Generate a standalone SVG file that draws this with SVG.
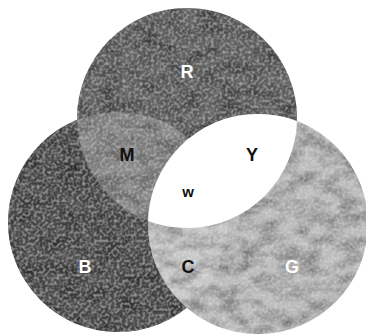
<svg xmlns="http://www.w3.org/2000/svg" width="366" height="335" viewBox="0 0 366 335">
  <style>
    .lbl { font-family: "Liberation Sans", Arial, sans-serif; font-weight: bold; text-anchor: middle; }
    .light { fill: #ffffff; }
    .dark { fill: #111111; }
  </style>
  <defs>
    <circle id="cR" cx="187" cy="118" r="110"/>
    <circle id="cB" cx="118" cy="222" r="110"/>
    <circle id="cG" cx="258" cy="224" r="110"/>
    <clipPath id="clipR"><use href="#cR"/></clipPath>
    <clipPath id="clipB"><use href="#cB"/></clipPath>
    <filter id="tex" x="0" y="0" width="366" height="335" filterUnits="userSpaceOnUse">
      <feTurbulence type="fractalNoise" baseFrequency="0.05 0.08" numOctaves="3" seed="7" result="n"/>
      <feColorMatrix in="n" type="matrix" values="0 0 0 0 0  0 0 0 0 0  0 0 0 0 0  1.3 0 0 0 -0.45" result="dk"/>
      <feComposite in="dk" in2="SourceGraphic" operator="in" result="dk2"/>
      <feTurbulence type="fractalNoise" baseFrequency="0.35" numOctaves="1" seed="2" result="f"/>
      <feColorMatrix in="f" type="matrix" values="0 0 0 0 1  0 0 0 0 1  0 0 0 0 1  0.7 0 0 0 -0.3" result="lt"/>
      <feComposite in="lt" in2="SourceGraphic" operator="in" result="lt2"/>
      <feMerge><feMergeNode in="SourceGraphic"/><feMergeNode in="dk2"/><feMergeNode in="lt2"/></feMerge>
    </filter>
  </defs>
  <rect width="366" height="335" fill="#ffffff"/>
  <g filter="url(#tex)">
    <g id="set-R"><use href="#cR" fill="#636363"/></g>
    <g id="set-B"><use href="#cB" fill="#505050"/></g>
    <g id="set-G"><use href="#cG" fill="#bcbcbc"/></g>
    <g id="region-M"><use href="#cB" clip-path="url(#clipR)" fill="#8a8a8a"/></g>
    <g id="region-C"><use href="#cG" clip-path="url(#clipB)" fill="#c8c8c8"/></g>
  </g>
  <g id="region-RG"><use href="#cG" clip-path="url(#clipR)" fill="#ffffff"/></g>
  <g id="labels">
    <text class="lbl light" x="187" y="78" font-size="18">R</text>
    <text class="lbl dark" x="127" y="161" font-size="18">M</text>
    <text class="lbl dark" x="252" y="161" font-size="18">Y</text>
    <text class="lbl dark" x="188" y="197" font-size="15">w</text>
    <text class="lbl light" x="85" y="273" font-size="18">B</text>
    <text class="lbl dark" x="188" y="273" font-size="18">C</text>
    <text class="lbl light" x="292" y="273" font-size="18">G</text>
  </g>
</svg>
